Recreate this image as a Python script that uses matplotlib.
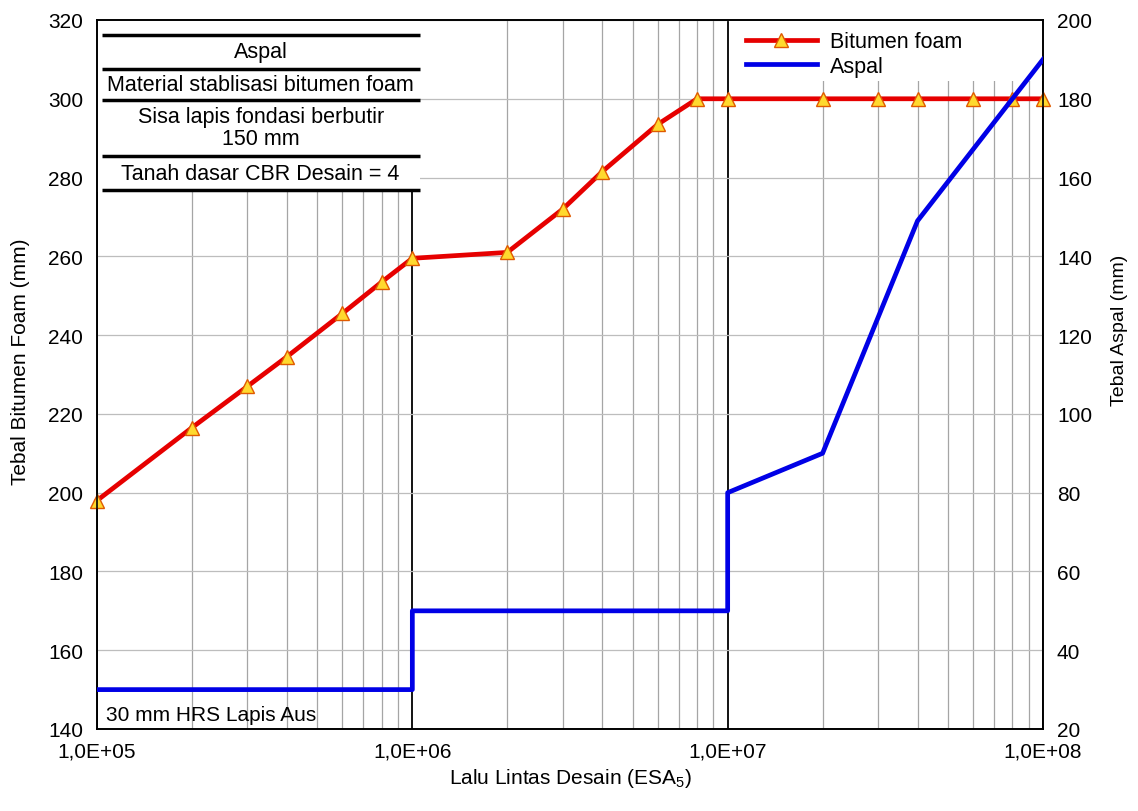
import numpy as np
import matplotlib.pyplot as plt
from matplotlib.patches import Rectangle
from matplotlib.ticker import FixedLocator, NullFormatter

plt.rcParams["font.family"] = ["Liberation Sans", "DejaVu Sans"]
plt.rcParams["mathtext.fontset"] = "custom"
plt.rcParams["mathtext.rm"] = "Liberation Sans"
plt.rcParams["mathtext.it"] = "Liberation Sans:italic"

# Bitumen foam thickness (left axis, mm)
foam_esa = [1e5, 2e5, 3e5, 4e5, 6e5, 8e5, 1e6, 2e6, 3e6, 4e6, 6e6, 8e6,
            1e7, 2e7, 3e7, 4e7, 6e7, 8e7, 1e8]
foam_mm = [198, 216.5, 227, 234.5, 245.5, 253.5, 259.5, 261, 272, 281.5, 293.5, 300,
           300, 300, 300, 300, 300, 300, 300]

# Asphalt thickness (right axis, mm)
aspal_esa = [1e5, 1e6, 1e6, 1e7, 1e7, 2e7, 4e7, 1e8]
aspal_mm = [30, 30, 50, 50, 80, 90, 149, 190]

x_major = [1e5, 1e6, 1e7, 1e8]
x_labels = ["1,0E+05", "1,0E+06", "1,0E+07", "1,0E+08"]
y_left_ticks = list(range(140, 321, 20))
y_right_ticks = list(range(20, 201, 20))

table_rows = ["Aspal", "Material stablisasi bitumen foam",
              "Sisa lapis fondasi berbutir\n150 mm", "Tanah dasar CBR Desain = 4"]

fs = 15
fig = plt.figure(figsize=(11.38, 8.12), dpi=100)
ax = fig.add_axes([97 / 1138, 1 - 730 / 812, 946 / 1138, 709 / 812])
ax.set_xscale("log")
ax.set_xlim(1e5, 1e8)
ax.set_ylim(140, 320)
ax.set_yticks(y_left_ticks)
ax.xaxis.set_major_locator(FixedLocator(x_major))
ax.set_xticklabels(x_labels)
minors = [m * 10 ** d for d in range(5, 8) for m in range(2, 10)]
ax.xaxis.set_minor_locator(FixedLocator(minors))
ax.xaxis.set_minor_formatter(NullFormatter())
ax.tick_params(axis="both", which="both", length=0, labelsize=fs)
ax.tick_params(axis="x", pad=9)
ax.tick_params(axis="y", pad=10)

ax.set_axisbelow(True)
ax.grid(True, axis="y", color="#bdbdbd", lw=0.9)
ax.grid(True, axis="x", which="minor", color="#a5a5a5", lw=0.9)
ax.grid(True, axis="x", which="major", color="black", lw=1.3)

# white panels covering the grid (layer table and legend)
ax.add_patch(Rectangle((0, 0.757), 0.341, 0.243, transform=ax.transAxes,
                       facecolor="white", edgecolor="none", zorder=1))
ax.add_patch(Rectangle((0.668, 0.914), 0.332, 0.086, transform=ax.transAxes,
                       facecolor="white", edgecolor="none", zorder=1))

for yl in [0.979, 0.931, 0.887, 0.808, 0.760]:
    ax.plot([0.005, 0.341], [yl, yl], transform=ax.transAxes, color="black",
            lw=2.5, zorder=3, solid_capstyle="butt")
for txt, yt in zip(table_rows, [0.955, 0.909, 0.848, 0.783]):
    ax.text(0.173, yt, txt, transform=ax.transAxes, ha="center", va="center",
            fontsize=15.5, linespacing=1.05, zorder=3)

ax.text(0.009, 0.021, "30 mm HRS Lapis Aus", transform=ax.transAxes,
        ha="left", va="center", fontsize=fs, zorder=3)

l1, = ax.plot(foam_esa, foam_mm, color="#e60000", lw=3.4, marker="^",
              markersize=10, markerfacecolor="#ffd92e", markeredgecolor="#e05a00",
              markeredgewidth=1.0, zorder=4, clip_on=False, label="Bitumen foam")

ax2 = ax.twinx()
ax2.set_ylim(20, 200)
ax2.set_yticks(y_right_ticks)
ax2.tick_params(axis="y", length=0, labelsize=fs, pad=10)
l2, = ax2.plot(aspal_esa, aspal_mm, color="#0000e6", lw=3.4, zorder=4,
               label="Aspal")

for a in (ax, ax2):
    for s in a.spines.values():
        s.set_color("black")
        s.set_linewidth(1.2)

ax2.legend(handles=[l1, l2], loc="upper left", bbox_to_anchor=(0.672, 1.002),
           frameon=False, fontsize=15.5, handlelength=3.3, handletextpad=0.6,
           labelspacing=0.15, borderaxespad=0.2)

ax.set_ylabel("Tebal Bitumen Foam (mm)", fontsize=fs)
ax.yaxis.set_label_coords(-0.071, 0.52)
ax2.set_ylabel("Tebal Aspal (mm)", fontsize=14)
ax2.yaxis.set_label_coords(1.072, 0.564)
ax.set_xlabel(r"Lalu Lintas Desain (ESA$_{\mathit{5}}$)", fontsize=fs, labelpad=4)

plt.savefig("out.png", dpi=100)
plt.close()
